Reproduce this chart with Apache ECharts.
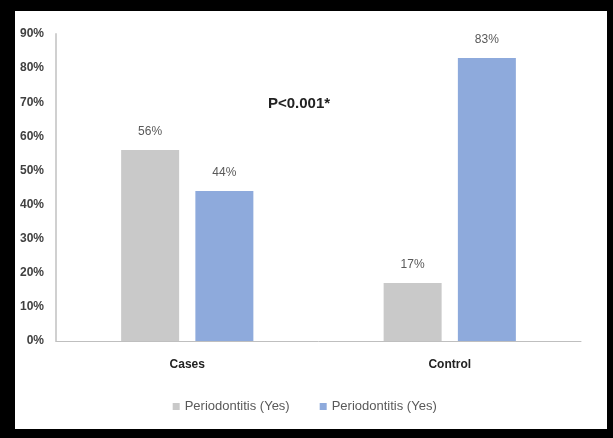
<!DOCTYPE html>
<html>
<head>
<meta charset="utf-8">
<script src="https://cdn.jsdelivr.net/npm/echarts@6/dist/echarts.min.js"></script>
<style>
  html, body { margin: 0; padding: 0; background: #000; }
  #frame { position: absolute; left: 15px; top: 11px; width: 592px; height: 418px; background: #fff; }
  #chart { position: absolute; left: -15px; top: -11px; width: 613px; height: 438px; }
</style>
</head>
<body>
<div id="frame"><div id="chart"></div></div>
<script>
// Share of participants by group
const categories = ['Cases', 'Control'];
const seriesNames = ['Periodontitis (Yes)', 'Periodontitis (Yes) '];
const grayValues = [56, 17];
const blueValues = [44, 83];
const yTicks = [0, 10, 20, 30, 40, 50, 60, 70, 80, 90];
const annotation = 'P<0.001*';

const FONT = 'Liberation Sans, Arial, sans-serif';
const chart = echarts.init(document.getElementById('chart'), null, { renderer: 'canvas' });
const labelStyle = {
  show: true, position: 'top', distance: 12,
  formatter: p => p.value + '%',
  color: '#595959', fontSize: 12, fontFamily: FONT
};
chart.setOption({
  backgroundColor: 'transparent',
  animation: false,
  grid: { left: 56, right: 32, top: 34, bottom: 97 },
  title: {
    text: annotation, left: 263, top: 91,
    textStyle: { fontSize: 15, fontWeight: 'bold', color: '#222', fontFamily: FONT }
  },
  legend: {
    bottom: 20, left: 'center', itemWidth: 7, itemHeight: 7, itemGap: 30,
    icon: 'rect',
    textStyle: { color: '#595959', fontSize: 13, fontFamily: FONT },
    data: seriesNames
  },
  xAxis: {
    type: 'category', data: categories,
    axisLine: { lineStyle: { color: '#bfbfbf' } },
    axisTick: { show: false },
    axisLabel: { color: '#222', fontWeight: 'bold', fontSize: 12, margin: 18, fontFamily: FONT }
  },
  yAxis: {
    type: 'value', min: yTicks[0], max: yTicks[yTicks.length - 1], interval: 10,
    axisLine: { show: true, lineStyle: { color: '#d0d0d0', width: 2 } },
    axisTick: { show: false },
    splitLine: { show: false },
    axisLabel: { color: '#404040', fontWeight: 'bold', fontSize: 12, margin: 12, formatter: v => v + '%', fontFamily: FONT }
  },
  series: [
    { name: seriesNames[0], type: 'bar', data: grayValues, barWidth: 58, barGap: '28%',
      itemStyle: { color: '#c9c9c9' }, label: labelStyle },
    { name: seriesNames[1], type: 'bar', data: blueValues, barWidth: 58,
      itemStyle: { color: '#8eaadc' }, label: labelStyle }
  ]
});
</script>
</body>
</html>
